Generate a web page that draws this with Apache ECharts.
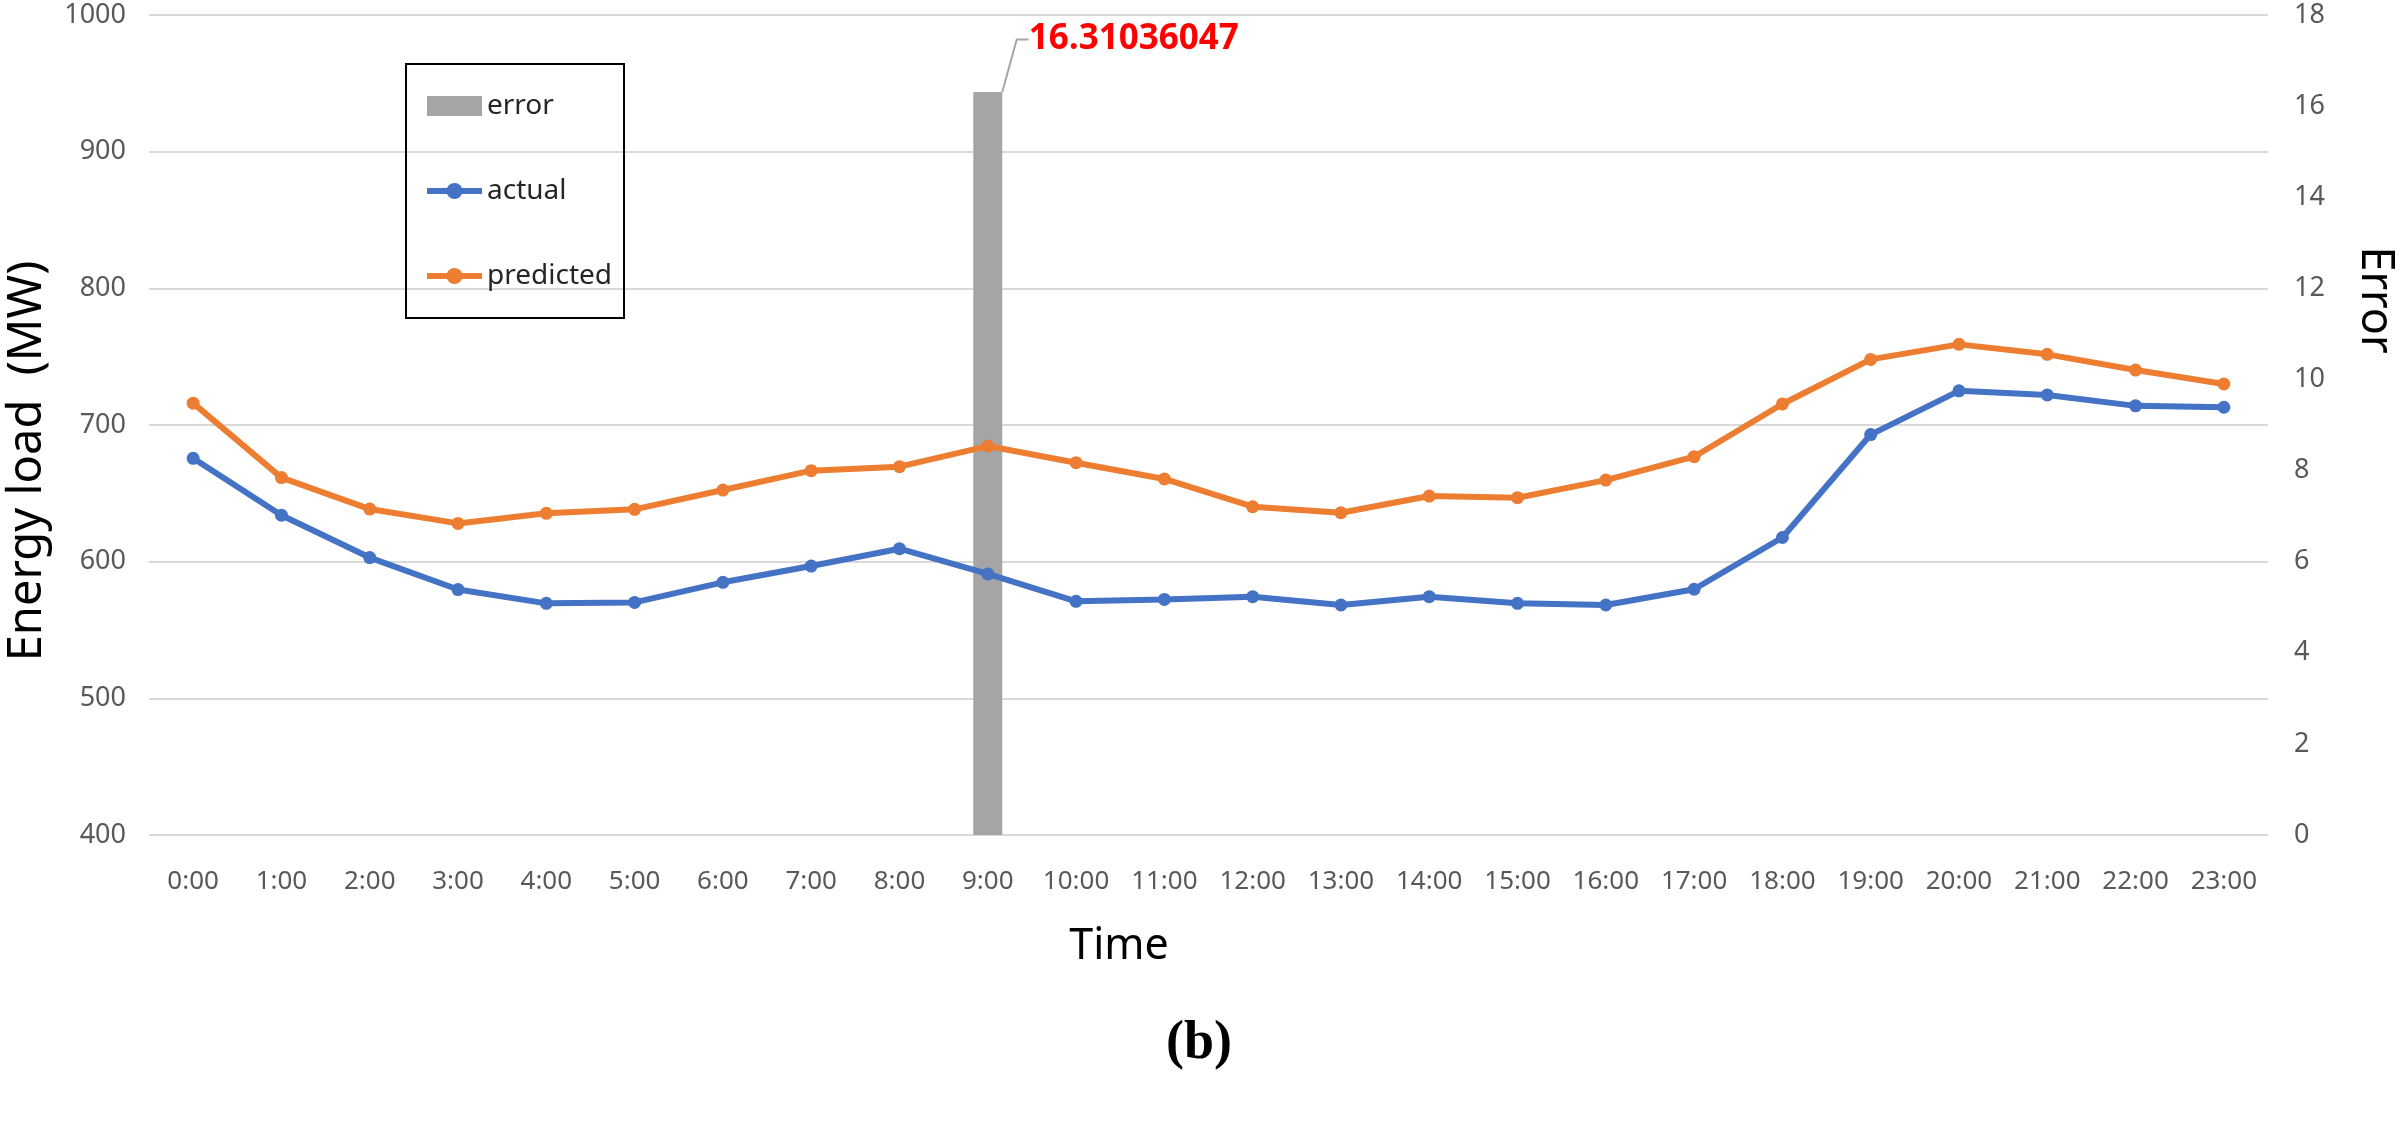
<!DOCTYPE html>
<html>
<head>
<meta charset="utf-8">
<script src="https://cdn.jsdelivr.net/npm/echarts@6/dist/echarts.min.js"></script>
<style>
  html, body { margin: 0; padding: 0; background: #fff; }
  #main { width: 2403px; height: 1126px; }
</style>
</head>
<body>
<div id="main"></div>
<script>
// hourly data
var hours = ['0:00', '1:00', '2:00', '3:00', '4:00', '5:00', '6:00', '7:00', '8:00', '9:00', '10:00', '11:00',
             '12:00', '13:00', '14:00', '15:00', '16:00', '17:00', '18:00', '19:00', '20:00', '21:00', '22:00', '23:00'];
var actual = [675.6, 634, 603, 579.6, 569.5, 570.2, 584.9, 596.8, 609.5, 591, 571, 572.4,
              574.4, 568.3, 574.4, 569.5, 568.3, 579.8, 617.7, 693, 725, 722, 714, 713];
var predicted = [716, 661.5, 638.5, 628, 635.4, 638.3, 652.4, 666.6, 669.5, 684.6, 672.4, 660.5,
                 640.2, 635.8, 648, 646.8, 659.7, 676.8, 715.4, 748, 759, 751.7, 740.2, 730];
var error = ['-', '-', '-', '-', '-', '-', '-', '-', '-', 16.31036047, '-', '-',
             '-', '-', '-', '-', '-', '-', '-', '-', '-', '-', '-', '-'];

var FONT = '"Noto Sans", "Open Sans", sans-serif';
var chart = echarts.init(document.getElementById('main'));

var option = {
    backgroundColor: '#fff',
    animation: false,
    grid: { left: 149, right: 135, top: 15, bottom: 291 },
    legend: {
        orient: 'vertical',
        left: 406,
        top: 64,
        padding: [28, 12, 28, 18],
        itemGap: 57,
        itemWidth: 55,
        itemHeight: 20,
        borderColor: '#000',
        borderWidth: 2,
        lineStyle: { width: 6 },
        textStyle: { fontSize: 28, color: '#262626', fontFamily: FONT },
        data: [{ name: 'error', icon: 'rect' }, 'actual', 'predicted']
    },
    xAxis: {
        type: 'category',
        data: hours,
        axisLine: { show: false },
        axisTick: { show: false },
        axisLabel: { color: '#595959', fontSize: 26, margin: 34, fontFamily: FONT, interval: 0 }
    },
    yAxis: [
        {
            type: 'value',
            min: 400, max: 1000, interval: 100,
            axisLine: { show: false },
            axisTick: { show: false },
            axisLabel: { color: '#595959', fontSize: 27, margin: 23, fontFamily: FONT,
                         formatter: function (v) { return String(v); } },
            splitLine: { lineStyle: { color: '#D9D9D9', width: 2 } }
        },
        {
            type: 'value',
            min: 0, max: 18, interval: 2,
            axisLine: { show: false },
            axisTick: { show: false },
            axisLabel: { color: '#595959', fontSize: 27, margin: 26, fontFamily: FONT },
            splitLine: { show: false }
        }
    ],
    graphic: [
        { type: 'text', x: 28, y: 461, rotation: Math.PI / 2,
          style: { text: 'Energy load  (MW)', fontSize: 47, fill: '#000', fontFamily: FONT, align: 'center', verticalAlign: 'middle' } },
        { type: 'text', x: 2375, y: 300, rotation: -Math.PI / 2,
          style: { text: 'Error', fontSize: 45, fill: '#000', fontFamily: FONT, align: 'center', verticalAlign: 'middle' } },
        { type: 'text', x: 1119, y: 947,
          style: { text: 'Time', fontSize: 43, fill: '#000', fontFamily: FONT, align: 'center', verticalAlign: 'middle' } },
        { type: 'text', x: 1199, y: 1044,
          style: { text: '(b)', fontSize: 54, fontWeight: 'bold', fill: '#000', fontFamily: '"Liberation Serif", "DejaVu Serif", serif', align: 'center', verticalAlign: 'middle' } }
    ],
    series: [
        {
            name: 'error',
            type: 'bar',
            yAxisIndex: 1,
            barWidth: 29,
            data: error,
            itemStyle: { color: '#A5A5A5' },
            label: {
                show: true,
                position: 'top',
                color: '#FF0000',
                fontWeight: 'bold',
                fontSize: 35,
                fontFamily: '"Open Sans", "Noto Sans", sans-serif'
            },
            labelLayout: { dx: 146, dy: -30 },
            labelLine: { show: true, length2: 12, lineStyle: { color: '#A6A6A6', width: 2 } }
        },
        {
            name: 'actual',
            type: 'line',
            data: actual,
            symbol: 'circle',
            symbolSize: 13,
            color: '#4472C4',
            lineStyle: { width: 6, color: '#4472C4' },
            itemStyle: { color: '#4472C4' }
        },
        {
            name: 'predicted',
            type: 'line',
            data: predicted,
            symbol: 'circle',
            symbolSize: 13,
            color: '#ED7D31',
            lineStyle: { width: 6, color: '#ED7D31' },
            itemStyle: { color: '#ED7D31' }
        }
    ]
};

chart.setOption(option);
</script>
</body>
</html>
